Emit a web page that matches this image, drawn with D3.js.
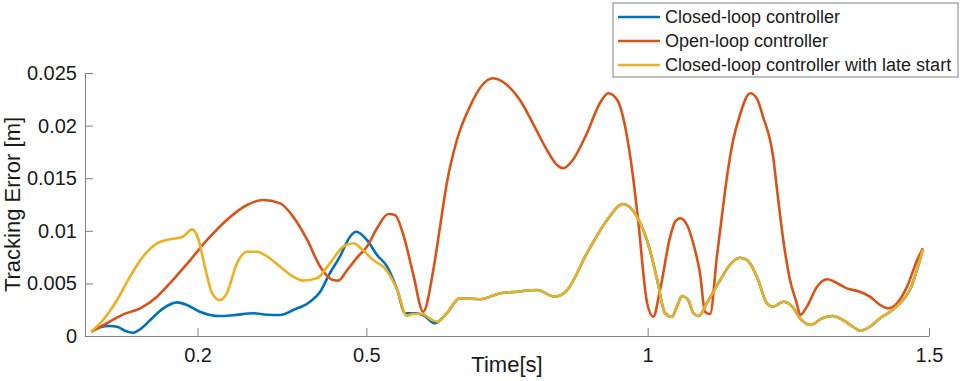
<!DOCTYPE html>
<html>
<head>
<meta charset="utf-8">
<script src="https://cdn.jsdelivr.net/npm/d3@7"></script>
<style>
  body { margin: 0; background: #fff; }
  svg { display: block; font-family: 'Liberation Sans', Arial, Helvetica, sans-serif; }
</style>
</head>
<body>
<svg width="963" height="381"></svg>
<script>
const seriesNames = ['Closed-loop controller', 'Open-loop controller', 'Closed-loop controller with late start'];
const seriesColors = ['#0072BD', '#D95319', '#EDB120'];

const xTicks = [0.2, 0.5, 1, 1.5];
const xTickLabels = ['0.2', '0.5', '1', '1.5'];
const yTicks = [0, 0.005, 0.01, 0.015, 0.02, 0.025];
const yTickLabels = ['0', '0.005', '0.01', '0.015', '0.02', '0.025'];

const closedTime = [0.011, 0.027, 0.044, 0.057, 0.071, 0.085, 0.098, 0.116, 0.139, 0.164, 0.181, 0.204,
  0.240, 0.263, 0.299, 0.324, 0.347, 0.370, 0.400, 0.418, 0.435, 0.453, 0.471, 0.482, 0.501, 0.519,
  0.537, 0.555, 0.569, 0.587, 0.601, 0.622, 0.643, 0.666, 0.702, 0.738, 0.768, 0.803, 0.835, 0.857,
  0.892, 0.928, 0.956, 0.981, 1.004, 1.017, 1.031, 1.043, 1.052, 1.061, 1.072, 1.081, 1.091, 1.105,
  1.129, 1.146, 1.164, 1.177, 1.194, 1.212, 1.223, 1.241, 1.257, 1.271, 1.289, 1.310, 1.329, 1.347,
  1.365, 1.377, 1.395, 1.413, 1.431, 1.448, 1.466, 1.489];
const closedError = [0.00041, 0.00083, 0.00095, 0.00088, 0.00050, 0.00031, 0.00064, 0.00152, 0.00263, 0.00320, 0.00295, 0.00231,
  0.00190, 0.00197, 0.00216, 0.00202, 0.00200, 0.00247, 0.00326, 0.00421, 0.00596, 0.00754, 0.00944, 0.00991, 0.00913, 0.00770,
  0.00659, 0.00437, 0.00216, 0.00216, 0.00200, 0.00121, 0.00216, 0.00358, 0.00349, 0.00406, 0.00421, 0.00437, 0.00374, 0.00437,
  0.00786, 0.01103, 0.01255, 0.01134, 0.00817, 0.00532, 0.00216, 0.00183, 0.00279, 0.00380, 0.00342, 0.00221, 0.00190, 0.00311,
  0.00532, 0.00675, 0.00744, 0.00722, 0.00564, 0.00311, 0.00279, 0.00326, 0.00279, 0.00168, 0.00105, 0.00168, 0.00190, 0.00152,
  0.00088, 0.00050, 0.00088, 0.00168, 0.00231, 0.00311, 0.00437, 0.00824];

const openTime = [0.011, 0.039, 0.068, 0.098, 0.128, 0.156, 0.187, 0.217, 0.252, 0.288, 0.316, 0.347,
  0.370, 0.395, 0.418, 0.441, 0.450, 0.466, 0.485, 0.501, 0.519, 0.539, 0.551, 0.565, 0.583, 0.601,
  0.619, 0.631, 0.643, 0.661, 0.684, 0.706, 0.725, 0.750, 0.773, 0.796, 0.821, 0.839, 0.850, 0.867,
  0.892, 0.915, 0.930, 0.946, 0.960, 0.974, 0.983, 0.999, 1.010, 1.022, 1.040, 1.049, 1.058, 1.070,
  1.081, 1.093, 1.102, 1.111, 1.123, 1.134, 1.141, 1.152, 1.164, 1.182, 1.194, 1.205, 1.223, 1.230,
  1.241, 1.253, 1.265, 1.271, 1.283, 1.301, 1.319, 1.337, 1.354, 1.377, 1.395, 1.413, 1.427, 1.443,
  1.461, 1.479, 1.489];
const openError = [0.00041, 0.00121, 0.00206, 0.00263, 0.00374, 0.00532, 0.00722, 0.00913, 0.01103, 0.01245, 0.01293, 0.01261,
  0.01134, 0.00913, 0.00659, 0.00532, 0.00526, 0.00627, 0.00754, 0.00849, 0.01024, 0.01160, 0.01150, 0.00976, 0.00596, 0.00231,
  0.00627, 0.01039, 0.01452, 0.01863, 0.02180, 0.02386, 0.02450, 0.02386, 0.02243, 0.02022, 0.01768, 0.01625, 0.01594, 0.01673,
  0.01927, 0.02212, 0.02307, 0.02243, 0.01990, 0.01514, 0.01103, 0.00314, 0.00183, 0.00437, 0.00944, 0.01087, 0.01119, 0.01055,
  0.00881, 0.00596, 0.00231, 0.00209, 0.00754, 0.01229, 0.01514, 0.01863, 0.02101, 0.02307, 0.02259, 0.02085, 0.01704, 0.01388,
  0.00913, 0.00532, 0.00311, 0.00200, 0.00279, 0.00469, 0.00539, 0.00501, 0.00453, 0.00421, 0.00374, 0.00295, 0.00263, 0.00311,
  0.00469, 0.00722, 0.00834];

const lateTime = [0.011, 0.032, 0.057, 0.080, 0.103, 0.128, 0.151, 0.174, 0.190, 0.201, 0.213, 0.226,
  0.240, 0.252, 0.270, 0.288, 0.306, 0.324, 0.347, 0.370, 0.387, 0.412, 0.435, 0.459, 0.476, 0.494,
  0.512, 0.533, 0.555, 0.572, 0.583, 0.599, 0.617, 0.627, 0.643, 0.666, 0.702, 0.738, 0.768, 0.803,
  0.835, 0.857, 0.892, 0.928, 0.956, 0.981, 1.004, 1.017, 1.031, 1.043, 1.052, 1.061, 1.072, 1.081,
  1.091, 1.105, 1.129, 1.146, 1.164, 1.177, 1.194, 1.212, 1.223, 1.241, 1.257, 1.271, 1.289, 1.310,
  1.329, 1.347, 1.365, 1.377, 1.395, 1.413, 1.431, 1.448, 1.466, 1.489];
const lateError = [0.00041, 0.00152, 0.00342, 0.00564, 0.00754, 0.00881, 0.00919, 0.00944, 0.01014, 0.00929, 0.00659, 0.00406,
  0.00342, 0.00406, 0.00691, 0.00801, 0.00801, 0.00754, 0.00659, 0.00564, 0.00526, 0.00548, 0.00691, 0.00849, 0.00881, 0.00817,
  0.00722, 0.00644, 0.00437, 0.00190, 0.00209, 0.00209, 0.00152, 0.00136, 0.00216, 0.00358, 0.00349, 0.00406, 0.00421, 0.00437,
  0.00374, 0.00437, 0.00786, 0.01103, 0.01255, 0.01134, 0.00817, 0.00532, 0.00216, 0.00183, 0.00279, 0.00380, 0.00342, 0.00221,
  0.00190, 0.00311, 0.00532, 0.00675, 0.00744, 0.00722, 0.00564, 0.00311, 0.00279, 0.00326, 0.00279, 0.00168, 0.00105, 0.00168,
  0.00190, 0.00152, 0.00088, 0.00050, 0.00088, 0.00168, 0.00231, 0.00311, 0.00437, 0.00824];

const series = [
  { name: seriesNames[0], color: seriesColors[0], points: closedTime.map((t, i) => ({ t, v: closedError[i] })) },
  { name: seriesNames[1], color: seriesColors[1], points: openTime.map((t, i) => ({ t, v: openError[i] })) },
  { name: seriesNames[2], color: seriesColors[2], points: lateTime.map((t, i) => ({ t, v: lateError[i] })) },
];

const margin = { left: 85, right: 34, top: 73, bottom: 45 };
const width = 963, height = 381;

const xScale = d3.scaleLinear([0, 1.5], [margin.left, width - margin.right]);
const yScale = d3.scaleLinear([0, 0.025], [height - margin.bottom, margin.top]);

const svg = d3.select('svg');

const line = d3.line()
  .x((d) => xScale(d.t))
  .y((d) => yScale(d.v))
  .curve(d3.curveMonotoneX);

// axes (MATLAB style: ticks inside, gray axis lines)
const xAxis = d3.axisBottom(xScale)
  .tickValues(xTicks)
  .tickFormat((d, i) => xTickLabels[i])
  .tickSizeInner(-8)
  .tickSizeOuter(0)
  .tickPadding(12);

const yAxis = d3.axisLeft(yScale)
  .tickValues(yTicks)
  .tickFormat((d, i) => yTickLabels[i])
  .tickSizeInner(-8)
  .tickSizeOuter(0)
  .tickPadding(8);

const gx = svg.append('g')
  .attr('transform', `translate(0, ${height - margin.bottom})`)
  .call(xAxis);
const gy = svg.append('g')
  .attr('transform', `translate(${margin.left}, 0)`)
  .call(yAxis);

[gx, gy].forEach((g) => {
  g.select('.domain').attr('stroke', '#808080').attr('stroke-width', 1);
  g.selectAll('.tick line').attr('stroke', '#808080');
  g.selectAll('.tick text')
    .style('font-family', "'Liberation Sans', Arial, sans-serif")
    .style('font-size', '20px')
    .attr('fill', '#1a1a1a');
});

svg.append('text')
  .text('Time[s]')
  .attr('x', (xScale.range()[0] + xScale.range()[1]) / 2)
  .attr('y', 372)
  .attr('text-anchor', 'middle')
  .style('font-size', '22px')
  .attr('fill', '#1a1a1a');

svg.append('text')
  .text('Tracking Error [m]')
  .attr('transform', `translate(20, ${(yScale.range()[0] + yScale.range()[1]) / 2}) rotate(-90)`)
  .attr('text-anchor', 'middle')
  .style('font-size', '22px')
  .attr('fill', '#1a1a1a');

svg.selectAll('path.series')
  .data(series)
  .join('path')
    .attr('class', 'series')
    .attr('d', (d) => line(d.points))
    .attr('fill', 'none')
    .attr('stroke', (d) => d.color)
    .attr('stroke-width', 2.6)
    .attr('stroke-linejoin', 'round');

// legend
const legend = svg.append('g').attr('transform', 'translate(613, 3)');
legend.append('rect')
  .attr('width', 345)
  .attr('height', 74)
  .attr('fill', '#fff')
  .attr('stroke', '#808080')
  .attr('stroke-width', 1);

const rows = legend.selectAll('g.row')
  .data(series)
  .join('g')
    .attr('class', 'row')
    .attr('transform', (d, i) => `translate(0, ${14 + i * 24})`);

rows.append('line')
  .attr('x1', 5)
  .attr('x2', 47)
  .attr('stroke', (d) => d.color)
  .attr('stroke-width', 2.6);

rows.append('text')
  .text((d) => d.name)
  .attr('x', 52)
  .attr('dy', '0.35em')
  .style('font-size', '18px')
  .attr('fill', '#1a1a1a');
</script>
</body>
</html>
